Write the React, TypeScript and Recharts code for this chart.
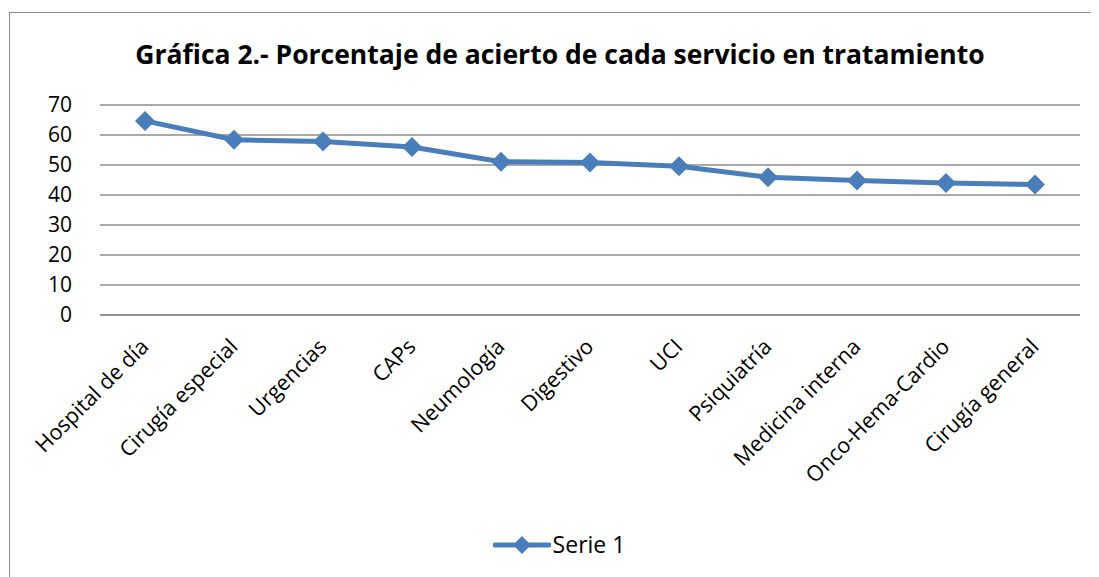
import React from 'react'
import { LineChart, Line, XAxis, YAxis, CartesianGrid, Legend } from 'recharts'

const categories = [
  'Hospital de día',
  'Cirugía especial',
  'Urgencias',
  'CAPs',
  'Neumología',
  'Digestivo',
  'UCI',
  'Psiquiatría',
  'Medicina interna',
  'Onco-Hema-Cardio',
  'Cirugía general',
]
const serie1 = [64.7, 58.4, 57.8, 56.0, 51.1, 50.8, 49.6, 45.9, 44.8, 44.0, 43.5]
const yTicks = [0, 10, 20, 30, 40, 50, 60, 70]

const data = categories.map((name, i) => ({ name, serie1: serie1[i] }))

const BLUE = '#4a7ebb'
const FONT = '"Open Sans", sans-serif'

function Diamond(props: any) {
  const { cx, cy } = props
  if (cx == null || cy == null) return null
  const r = 10
  return (
    <polygon
      points={`${cx},${cy - r} ${cx + r},${cy} ${cx},${cy + r} ${cx - r},${cy}`}
      fill={BLUE}
    />
  )
}

function XTick(props: any) {
  const { x, y, payload } = props
  const ax = x - 8
  const ay = y + 12
  return (
    <text
      x={ax}
      y={ay}
      transform={`rotate(-45, ${ax}, ${ay})`}
      textAnchor="end"
      fontSize={21.5}
      fill="#000"
      fontFamily={FONT}
      dominantBaseline="hanging"
    >
      {payload.value}
    </text>
  )
}

function LegendContent() {
  return (
    <div
      style={{
        display: 'flex',
        justifyContent: 'center',
        alignItems: 'center',
        fontFamily: FONT,
        fontSize: 23,
        lineHeight: '27px',
      }}
    >
      <svg width={58} height={20}>
        <line x1={2} y1={10} x2={56} y2={10} stroke={BLUE} strokeWidth={5} strokeLinecap="round" />
        <polygon points="29,1 38,10 29,19 20,10" fill={BLUE} />
      </svg>
      <span style={{ marginLeft: 2 }}>Serie 1</span>
    </div>
  )
}

export default function App() {
  return (
    <div style={{ position: 'relative', width: 1091, height: 569, fontFamily: FONT }}>
      <div
        style={{
          position: 'absolute',
          left: 1,
          top: 4,
          width: 1100,
          height: 600,
          border: '1.5px solid #8c8c8c',
          boxSizing: 'border-box',
        }}
      />
      <div
        style={{
          position: 'absolute',
          left: 0,
          top: 28,
          width: 1104,
          textAlign: 'center',
          fontWeight: 700,
          fontSize: 26.5,
          lineHeight: '36px',
          color: '#000',
        }}
      >
        Gráfica 2.- Porcentaje de acierto de cada servicio en tratamiento
      </div>
      <div style={{ position: 'absolute', left: 0, top: 0 }}>
        <LineChart
          width={1091}
          height={569}
          data={data}
          margin={{ top: 97, right: 19, bottom: 14, left: 30 }}
        >
          <CartesianGrid vertical={false} stroke="#8c8c8c" strokeWidth={1.5} />
          <XAxis
            dataKey="name"
            tick={<XTick />}
            tickLine={false}
            axisLine={{ stroke: '#8c8c8c', strokeWidth: 1.5 }}
            height={221}
            interval={0}
            padding={{ left: 45, right: 45 }}
          />
          <YAxis
            domain={[0, 70]}
            ticks={yTicks}
            tickLine={false}
            axisLine={false}
            width={62}
            tick={{ fontSize: 21, fill: '#000', fontFamily: FONT }}
            tickMargin={22}
          />
          <Legend verticalAlign="bottom" content={<LegendContent />} wrapperStyle={{ bottom: 19 }} />
          <Line
            dataKey="serie1"
            name="Serie 1"
            stroke={BLUE}
            strokeWidth={5}
            dot={<Diamond />}
            activeDot={false}
            isAnimationActive={false}
          />
        </LineChart>
      </div>
    </div>
  )
}
